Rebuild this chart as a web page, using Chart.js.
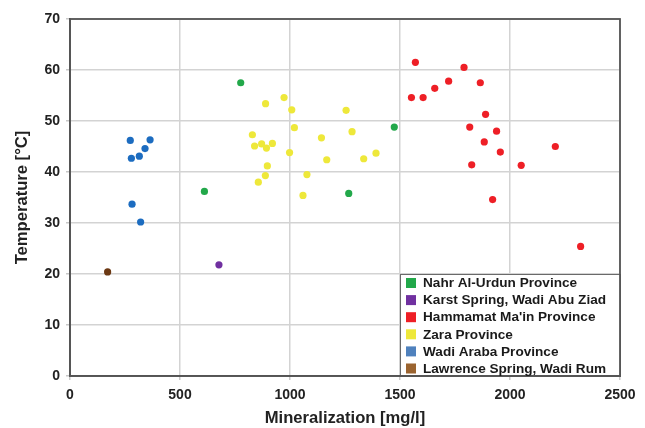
<!DOCTYPE html>
<html>
<head>
<meta charset="utf-8">
<title>Temperature vs Mineralization</title>
<script src="https://cdn.jsdelivr.net/npm/chart.js@4/dist/chart.umd.min.js"></script>
<style>
    html, body { margin: 0; padding: 0; background: #ffffff; }
    #wrap { width: 645px; height: 428px; }
</style>
</head>
<body>
<div id="wrap"><canvas id="grafico" width="645" height="428"></canvas></div>
<script>
// ===================================================
// DATOS - mineralización [mg/l] y temperatura [°C]
// ===================================================

const grupos = ['Nahr Al-Urdun Province', 'Karst Spring, Wadi Abu Ziad', "Hammamat Ma'in Province", 'Zara Province', 'Wadi Araba Province', 'Lawrence Spring, Wadi Rum'];

const nahrMin  = [776, 611, 1267, 1474];
const nahrTemp = [57.5, 36.2, 35.8, 48.8];

const karstMin  = [677];
const karstTemp = [21.8];

const hammamatMin  = [1570, 1791, 1721, 1865, 1658, 1552, 1605, 1889, 1817, 1939, 1883, 2206, 1956, 1826, 2051, 1921, 2321];
const hammamatTemp = [61.5, 60.5, 57.8, 57.5, 56.4, 54.6, 54.6, 51.3, 48.8, 48.0, 45.9, 45.0, 43.9, 41.4, 41.3, 34.6, 25.4];

const zaraMin  = [889, 973, 1008, 1255, 1020, 1282, 829, 1143, 839, 871, 893, 920, 998, 1167, 897, 1077, 888, 856, 1059, 1335, 1391];
const zaraTemp = [53.4, 54.6, 52.2, 52.1, 48.7, 47.9, 47.3, 46.7, 45.1, 45.5, 44.7, 45.6, 43.8, 42.4, 41.2, 39.5, 39.3, 38.0, 35.4, 42.6, 43.7];

const arabaMin  = [274, 364, 341, 279, 315, 282, 321];
const arabaTemp = [46.2, 46.3, 44.6, 42.7, 43.1, 33.7, 30.2];

const lawrenceMin  = [171];
const lawrenceTemp = [20.4];

const colPuntos  = ['#22a84a', '#7030a0', '#ee1f26', '#eee83a', '#1c6cc0', '#6b3813'];
const colLeyenda = ['#22a84a', '#7030a0', '#ee1f26', '#eee83a', '#4f81bd', '#9b6430'];

// ===================================================
// UTILITARIAS
// ===================================================

function armarPuntos(xs, ys) {
    return xs.map((x, i) => ({ x: x, y: ys[i] }));
}

const series = [
    [nahrMin, nahrTemp],
    [karstMin, karstTemp],
    [hammamatMin, hammamatTemp],
    [zaraMin, zaraTemp],
    [arabaMin, arabaTemp],
    [lawrenceMin, lawrenceTemp]
];

const datasets = series.map(([xs, ys], i) => ({
    label: grupos[i],
    data: armarPuntos(xs, ys),
    backgroundColor: colPuntos[i],
    borderWidth: 0,
    pointRadius: 3.6,
    pointHoverRadius: 3.6
}));

// marco del área + leyenda en la esquina inferior derecha
const marcoYLeyenda = {
    id: 'marcoYLeyenda',
    afterDraw(chart) {
        const { ctx, chartArea: a } = chart;
        ctx.save();
        ctx.strokeStyle = '#555555';
        ctx.lineWidth = 1.8;
        ctx.strokeRect(a.left, a.top, a.right - a.left, a.bottom - a.top);

        const w = 220, h = 102;
        const x0 = a.right - w, y0 = a.bottom - h;
        ctx.fillStyle = '#ffffff';
        ctx.fillRect(x0, y0, w, h);
        ctx.strokeStyle = '#6a6a6a';
        ctx.lineWidth = 1;
        ctx.strokeRect(x0 + 0.5, y0 + 0.5, w, h);
        ctx.strokeStyle = '#555555';
        ctx.lineWidth = 1.8;
        ctx.beginPath();
        ctx.moveTo(a.right, y0);
        ctx.lineTo(a.right, a.bottom);
        ctx.lineTo(x0, a.bottom);
        ctx.stroke();

        ctx.font = 'bold 13.6px "Liberation Sans", Arial, sans-serif';
        ctx.textBaseline = 'middle';
        chart.data.datasets.forEach((ds, i) => {
            const yy = y0 + 9 + i * 17.1;
            ctx.fillStyle = colLeyenda[i];
            ctx.fillRect(x0 + 6, yy - 5, 10, 10);
            ctx.fillStyle = '#1a1a1a';
            ctx.fillText(ds.label, x0 + 23, yy + 0.5);
        });
        ctx.restore();
    }
};

// ===================================================
// GRÁFICO
// ===================================================

const fuenteTicks = { family: '"Liberation Sans", Arial, sans-serif', size: 14, weight: 'bold' };
const fuenteTitulo = { family: '"Liberation Sans", Arial, sans-serif', size: 16.6, weight: 'bold' };

new Chart(document.getElementById('grafico'), {
    type: 'scatter',
    data: { datasets },
    options: {
        responsive: false,
        animation: false,
        layout: { padding: { left: 12, right: 25, top: 19, bottom: 0 } },
        plugins: {
            legend: { display: false },
            tooltip: { enabled: false }
        },
        scales: {
            x: {
                min: 0, max: 2500,
                ticks: { stepSize: 500, color: '#222222', font: fuenteTicks, padding: 7, callback: v => String(v) },
                grid: { color: '#d3d3d3', lineWidth: 1.5, tickLength: 4, tickColor: '#c8c8c8' },
                border: { display: true, color: '#555555', width: 1.8 },
                title: { display: true, text: 'Mineralization [mg/l]', color: '#222222', font: fuenteTitulo, padding: { top: 1, bottom: 0 } },
                afterFit(scale) { scale.height = 52; }
            },
            y: {
                min: 0, max: 70,
                ticks: { stepSize: 10, color: '#222222', font: fuenteTicks, padding: 6, callback: v => String(v) },
                grid: { color: '#d3d3d3', lineWidth: 1.5, tickLength: 4, tickColor: '#c8c8c8' },
                border: { display: true, color: '#555555', width: 1.8 },
                title: { display: true, text: 'Temperature [°C]', color: '#222222', font: fuenteTitulo, padding: { top: 0, bottom: 4 } },
                afterFit(scale) { scale.width = 58; }
            }
        }
    },
    plugins: [marcoYLeyenda]
});
</script>
</body>
</html>
